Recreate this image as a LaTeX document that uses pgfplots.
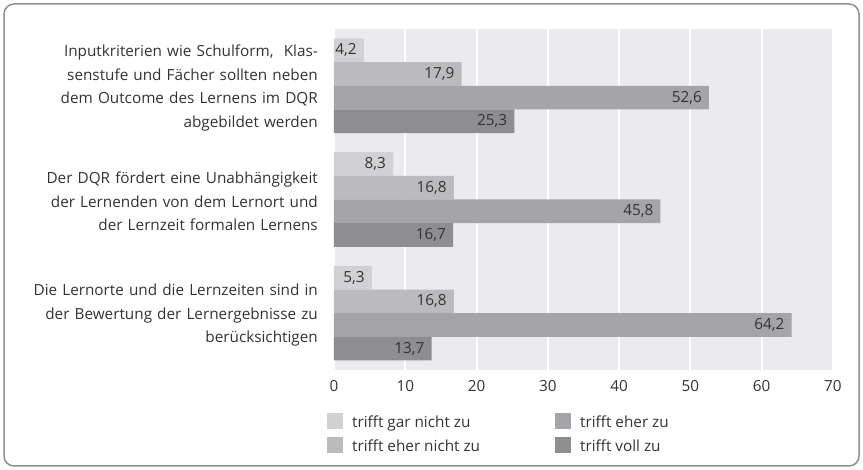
\documentclass[border=0pt]{standalone}
\usepackage{fontspec}
\setmainfont{Open Sans}
\usepackage{pgfplots}
\pgfplotsset{compat=1.18}
\definecolor{Ga}{HTML}{D1D1D3}
\definecolor{Gb}{HTML}{BBBBBE}
\definecolor{Gc}{HTML}{A5A4A8}
\definecolor{Gd}{HTML}{8E8D92}
\definecolor{Bg}{HTML}{EBEBED}
\definecolor{Frame}{HTML}{8F8F8F}
\definecolor{Txt}{HTML}{333333}
\newcommand{\lab}{\fontsize{15.3}{23.5}\selectfont}
\begin{document}
\begin{tikzpicture}[x=1pt,y=1pt]
\useasboundingbox (0,0) rectangle (863,470);
\draw[Frame, line width=1.5pt, rounded corners=10pt] (4,4) rectangle (859,466);
\begin{axis}[
  at={(334pt,100pt)}, anchor=south west,
  scale only axis, width=499pt, height=341pt,
  xbar, bar width=0.208,
  xmin=0, xmax=70, xtick={0,10,...,70},
  ymin=-0.5, ymax=2.5, y dir=reverse,
  ytick={0,1,2},
  yticklabels={
    {Inputkriterien wie Schulform,\ \ Klas-\\senstufe und Fächer sollten neben\\dem Outcome des Lernens im DQR\\abgebildet werden},
    {Der DQR fördert eine Unabhängigkeit\\der Lernenden von dem Lernort und\\der Lernzeit formalen Lernens},
    {Die Lernorte und die Lernzeiten sind in\\der Bewertung der Lernergebnisse zu\\berücksichtigen}},
  yticklabel style={align=right, text width=300pt, inner sep=0pt, xshift=-16pt, yshift=-2pt, font=\lab, text=Txt},
  xticklabel style={inner sep=0pt, yshift=-10pt, font=\lab, text=Txt},
  major tick length=0pt,
  axis line style={draw=none},
  tick style={draw=none},
  axis background/.style={fill=Bg},
  xmajorgrids, grid style={white, line width=2pt},
  /pgf/number format/assume math mode=true,
  nodes near coords={\pgfmathprintnumber[fixed,fixed zerofill,precision=1,use comma]{\pgfplotspointmeta}},
  every node near coord/.append style={anchor=east, inner sep=0pt, xshift=-7pt, font=\lab, text=Txt},
  legend columns=2, transpose legend,
  legend cell align=left,
  legend image code/.code={\fill[#1] (0pt,-7pt) rectangle (16pt,9pt);},
  legend style={at={(-0.014,-0.126)}, anchor=north west, draw=none, fill=none,
    inner sep=0pt, font=\lab, text=Txt, row sep=8pt,
    nodes={inner sep=0pt},
    /tikz/every odd column/.append style={column sep=9pt}},
]
\addplot[fill=Ga, draw=none, bar shift=-0.312] coordinates {(4.2,0) (8.3,1) (5.3,2)};
\addlegendentry{\makebox[203pt][l]{trifft gar nicht zu}}
\addplot[fill=Gb, draw=none, bar shift=-0.104] coordinates {(17.9,0) (16.8,1) (16.8,2)};
\addlegendentry{\makebox[203pt][l]{trifft eher nicht zu}}
\addplot[fill=Gc, draw=none, bar shift=0.104] coordinates {(52.6,0) (45.8,1) (64.2,2)};
\addlegendentry{trifft eher zu}
\addplot[fill=Gd, draw=none, bar shift=0.312] coordinates {(25.3,0) (16.7,1) (13.7,2)};
\addlegendentry{trifft voll zu}
\end{axis}
\end{tikzpicture}
\end{document}
